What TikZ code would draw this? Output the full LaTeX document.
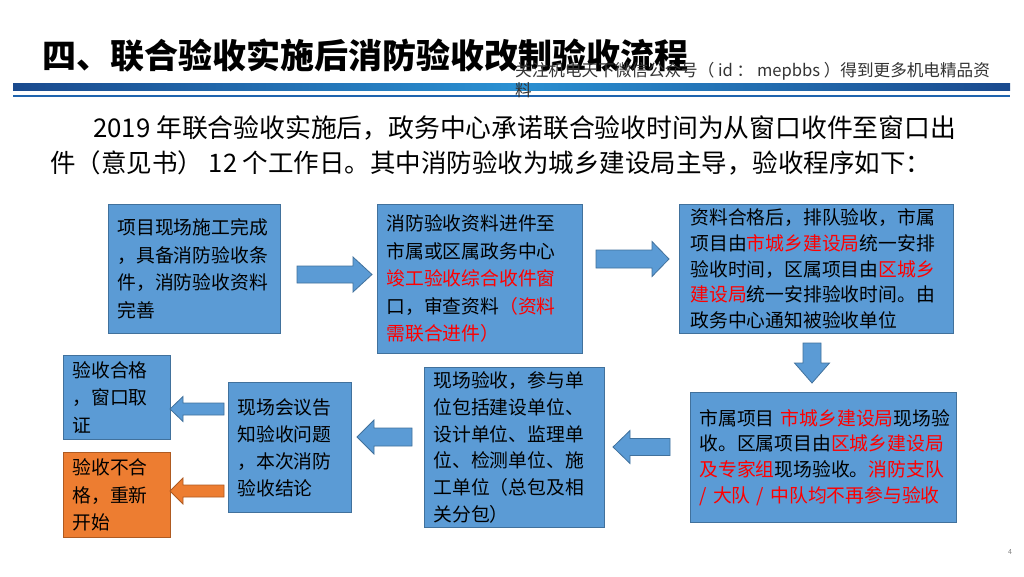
\documentclass[tikz,border=0pt]{standalone}
\usepackage{fontspec}
\setmainfont{Noto Sans CJK SC}
\definecolor{boxblue}{HTML}{5B9BD5}
\definecolor{boxedge}{HTML}{41719C}
\definecolor{orng}{HTML}{ED7D31}
\definecolor{orngedge}{HTML}{AE5A21}
\definecolor{bandA}{HTML}{1A4A8E}
\definecolor{bandB}{HTML}{2A90D2}
\definecolor{bandline}{HTML}{1F64AE}
\definecolor{rd}{HTML}{FF0000}
\newcommand{\rt}[1]{\textcolor{rd}{#1}}
\tikzset{
  flowbox/.style={draw=boxedge, line width=0.8pt, fill=boxblue, inner xsep=9pt, inner ysep=0pt,
    align=left, text=black, anchor=north west, font=\fontsize{18.8}{27.5}\selectfont},
  orangebox/.style={flowbox, draw=orngedge, fill=orng},
  tightlines/.style={font=\fontsize{18.8}{25.6}\selectfont},
  bluearrow/.style={draw=boxedge, line width=0.8pt, fill=boxblue},
  orangearrow/.style={draw=orngedge, line width=0.8pt, fill=orng},
  pics/barrow/.style n args={4}{code={
    \path[pic actions] (0,-#2) -- ({#1-#4},-#2) -- ({#1-#4},-#3) -- (#1,0)
      -- ({#1-#4},#3) -- ({#1-#4},#2) -- (0,#2) -- cycle;
  }}
}
\begin{document}
\begin{tikzpicture}[x=1pt,y=-1pt]
\useasboundingbox (0,0) rectangle (1024,576);
\fill[white] (0,0) rectangle (1024,576);

% header
\node[anchor=base west, inner sep=0pt, font=\fontsize{34}{40}\selectfont\bfseries] (title) at (42,68) {四、联合验收实施后消防验收改制验收流程};
\shade[left color=bandA, right color=bandB] (13,83) rectangle (511,90);
\shade[left color=bandB, right color=bandA] (511,83) rectangle (1010,90);
\draw[line width=2pt, bandline] (13,96) -- (1010,96);
\node[anchor=base west, inner sep=0pt, text=black!80, font=\fontsize{16.6}{18}\selectfont] (wm1) at (515,76) {关注机电天下微信公众号（ id ： mepbbs ）得到更多机电精品资};
\node[anchor=base west, inner sep=0pt, text=black!80, font=\fontsize{16.6}{18}\selectfont] (wm2) at (515,96) {料};

% intro text
\node[anchor=base west, inner sep=0pt, font=\fontsize{25.8}{30}\selectfont] (intro1) at (93,137.5) {2019 年联合验收实施后，政务中心承诺联合验收时间为从窗口收件至窗口出};
\node[anchor=base west, inner sep=0pt, font=\fontsize{25.5}{30}\selectfont] (intro2) at (50,172.5) {件（意见书） 12 个工作日。其中消防验收为城乡建设局主导，验收程序如下：};

% boxes
\node[flowbox, text width=154pt, minimum height=129pt] (A) at (108,204)
  {项目现场施工完成\\，具备消防验收条\\件，消防验收资料\\完善};
\node[flowbox, text width=187pt, minimum height=149pt] (B) at (377,204)
  {消防验收资料进件至\\市属或区属政务中心\\\rt{竣工验收综合收件窗}\\口，审查资料\rt{（资料}\\\rt{需联合进件）}};
\node[flowbox, tightlines, inner xsep=11pt, text width=252pt, minimum height=129pt] (C) at (679,204)
  {资料合格后，排队验收，市属\\项目由\rt{市城乡建设局}统一安排\\验收时间，区属项目由\rt{区城乡}\\\rt{建设局}统一安排验收时间。由\\政务中心通知被验收单位};
\node[flowbox, tightlines, inner xsep=9pt, text width=248pt, minimum height=130pt] (D) at (690,392)
  {市属项目~\rt{市城乡建设局}现场验\\收。区属项目由\rt{区城乡建设局}\\\rt{及专家组}现场验收。\rt{消防支队}\\\rt{/~大队~/~中队均不再参与验收}};
\node[flowbox, font=\fontsize{18.8}{26.8}\selectfont, text width=162pt, minimum height=160pt] (E) at (424,367)
  {现场验收，参与单\\位包括建设单位、\\设计单位、监理单\\位、检测单位、施\\工单位（总包及相\\关分包）};
\node[flowbox, font=\fontsize{18.8}{27}\selectfont, text width=105pt, minimum height=130pt] (F) at (228,382)
  {现场会议告\\知验收问题\\，本次消防\\验收结论};
\node[flowbox, text width=89pt, minimum height=84pt] (G) at (63,355)
  {验收合格\\，窗口取\\证};
\node[orangebox, text width=89pt, minimum height=85pt] (H) at (63,452)
  {验收不合\\格，重新\\开始};

% block arrows
\pic[bluearrow] (AB) at (297,274.5) {barrow={75}{8.5}{17.5}{19}};
\pic[bluearrow] (BC) at (596,259) {barrow={73}{9}{17.5}{17}};
\pic[bluearrow, rotate=-90] (CD) at (812,343) {barrow={40}{9}{17.5}{20}};
\pic[bluearrow, rotate=180] (DE) at (670,447) {barrow={57}{8.5}{16.5}{17}};
\pic[bluearrow, rotate=180] (EF) at (412,437) {barrow={55}{9}{17}{17}};
\pic[bluearrow, rotate=180] (FG) at (224,409) {barrow={54}{6}{12.5}{13}};
\pic[orangearrow, rotate=180] (FH) at (224,491) {barrow={54}{6}{13}{13}};

\node[text=gray, font=\fontsize{7}{8}\selectfont, inner sep=0pt] (page) at (1010,552) {4};
\end{tikzpicture}
\end{document}
